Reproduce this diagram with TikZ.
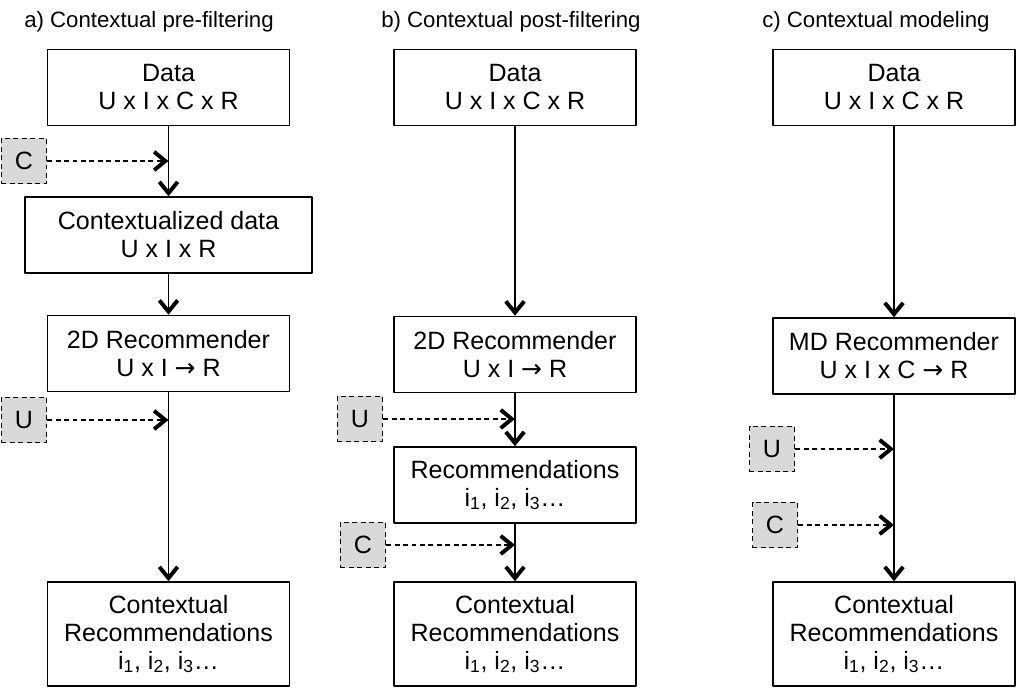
\documentclass[tikz,border=0pt]{standalone}
\usepackage{fontspec}
\setmainfont{Liberation Sans}
\newfontfamily\arrowfont{DejaVu Sans}
\newcommand\yields{{\arrowfont →}}
\usetikzlibrary{arrows.meta}
\begin{document}
\begin{tikzpicture}[x=0.025cm, y=-0.025cm, line join=round,
	>={Straight Barb[length=8pt,width=13pt,line width=2.8pt]},
	box/.style={draw, line width=1.1pt, fill=white, align=center, inner sep=0pt,
		minimum width=6.05cm, minimum height=1.9cm,
		font=\fontsize{17.8}{19.9}\selectfont},
	ctx/.style={draw, dashed, dash pattern=on 3.5pt off 2.5pt, line width=1pt,
		fill=gray!30, inner sep=0pt, minimum width=1.125cm, minimum height=1.125cm,
		font=\fontsize{17.8}{19.9}\selectfont},
	flow/.style={->, line width=1.1pt},
	feed/.style={->, line width=1pt, dash pattern=on 3.5pt off 2.5pt},
	title/.style={anchor=west, inner sep=0pt, font=\fontsize{15.8}{18}\selectfont}]
	\useasboundingbox (0,0) rectangle (1032,689);
	% titles
	\node[title] (tA) at (24,22) {a) Contextual pre-filtering};
	\node[title] (tB) at (381,22) {b) Contextual post-filtering};
	\node[title] (tC) at (762,22) {c) Contextual modeling};
	% a) pre-filtering
	\node[box] (dataA) at (168.5,87.5) {Data\\U x I x C x R};
	\node[box, minimum width=7.175cm] (ctxdA) at (168.5,235) {Contextualized data\\U x I x R};
	\node[box] (recA) at (168.5,353.5) {2D Recommender\\U x I \yields{} R};
	\node[box, minimum height=2.6cm] (outA) at (168.5,634)
		{Contextual\\Recommendations\\i\textsubscript{1}, i\textsubscript{2}, i\textsubscript{3}…};
	\node[ctx] (cA) at (24,161) {C};
	\node[ctx] (uA) at (24,420) {U};
	\coordinate (cApt) at (dataA.south |- cA.east);
	\coordinate (uApt) at (recA.south |- uA.east);
	\draw[flow] (dataA) -- (ctxdA);
	\draw[flow] (ctxdA) -- (recA);
	\draw[flow] (recA) -- (outA);
	\draw[feed] (cA) -- (cApt);
	\draw[feed] (uA) -- (uApt);
	% b) post-filtering
	\node[box] (dataB) at (515,87.5) {Data\\U x I x C x R};
	\node[box] (recB) at (515,354.5) {2D Recommender\\U x I \yields{} R};
	\node[box] (listB) at (515,485)
		{Recommendations\\i\textsubscript{1}, i\textsubscript{2}, i\textsubscript{3}…};
	\node[box, minimum height=2.6cm] (outB) at (515,634)
		{Contextual\\Recommendations\\i\textsubscript{1}, i\textsubscript{2}, i\textsubscript{3}…};
	\node[ctx] (uB) at (360,419) {U};
	\node[ctx] (cB) at (363,545) {C};
	\coordinate (uBpt) at (recB.south |- uB.east);
	\coordinate (cBpt) at (listB.south |- cB.east);
	\draw[flow] (dataB) -- (recB);
	\draw[flow] (recB) -- (listB);
	\draw[flow] (listB) -- (outB);
	\draw[feed] (uB) -- (uBpt);
	\draw[feed] (cB) -- (cBpt);
	% c) modeling
	\node[box] (dataC) at (894,87.5) {Data\\U x I x C x R};
	\node[box] (recC) at (894,356) {MD Recommender\\U x I x C \yields{} R};
	\node[box, minimum height=2.6cm] (outC) at (894,634)
		{Contextual\\Recommendations\\i\textsubscript{1}, i\textsubscript{2}, i\textsubscript{3}…};
	\node[ctx] (uC) at (772,449) {U};
	\node[ctx] (cC) at (775,525) {C};
	\coordinate (uCpt) at (recC.south |- uC.east);
	\coordinate (cCpt) at (recC.south |- cC.east);
	\draw[flow] (dataC) -- (recC);
	\draw[flow] (recC) -- (outC);
	\draw[feed] (uC) -- (uCpt);
	\draw[feed] (cC) -- (cCpt);
\end{tikzpicture}
\end{document}
